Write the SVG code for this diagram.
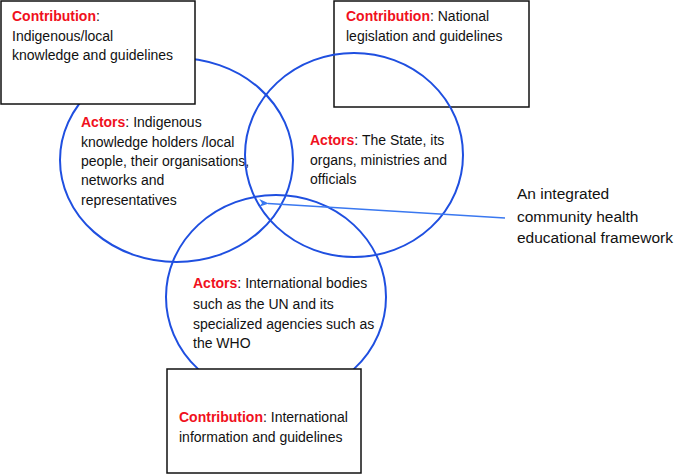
<svg xmlns="http://www.w3.org/2000/svg" width="700" height="475" viewBox="0 0 700 475">
<style>
text{font-family:"Liberation Sans",Arial,sans-serif;font-size:14px;fill:#111}
.k{fill:#f01020;font-weight:bold}
.box{fill:#fff;stroke:#111;stroke-width:1.5}
.ring{fill:none;stroke:#1f4fe0;stroke-width:2}
.lbl{font-size:15.5px}
</style>
<defs>
<marker id="ah" viewBox="0 0 10 10" refX="1" refY="5" markerWidth="10" markerHeight="10" markerUnits="userSpaceOnUse" orient="auto">
<path d="M10,1 L0,5 L10,9 L7,5 Z" fill="#3a78f0"/>
</marker>
</defs>
<rect width="700" height="475" fill="#fff"/>
<g id="contribution-national">
<rect class="box" x="334" y="1" width="195" height="106"/>
<text x="346" y="21"><tspan class="k">Contribution</tspan>: National</text>
<text x="346" y="41">legislation and guidelines</text>
</g>
<g id="actors-indigenous">
<ellipse class="ring" cx="176.5" cy="160" rx="116.5" ry="102"/>
<text x="81" y="127"><tspan class="k">Actors</tspan>: Indigenous</text>
<text x="81" y="147">knowledge holders /local</text>
<text x="81" y="166">people, their organisations,</text>
<text x="81" y="185">networks and</text>
<text x="81" y="205">representatives</text>
</g>
<g id="actors-state">
<ellipse class="ring" cx="354" cy="155" rx="109" ry="102"/>
<text x="310" y="145"><tspan class="k">Actors</tspan>: The State, its</text>
<text x="310" y="165">organs, ministries and</text>
<text x="310" y="184">officials</text>
</g>
<g id="actors-international">
<ellipse class="ring" cx="276" cy="297" rx="110" ry="102"/>
<text x="193" y="288"><tspan class="k">Actors</tspan>: International bodies</text>
<text x="193" y="309">such as the UN and its</text>
<text x="193" y="329">specialized agencies such as</text>
<text x="193" y="348">the WHO</text>
</g>
<g id="contribution-indigenous">
<rect class="box" x="1" y="1" width="194" height="103"/>
<text x="12" y="21"><tspan class="k">Contribution</tspan>:</text>
<text x="12" y="41">Indigenous/local</text>
<text x="12" y="60">knowledge and guidelines</text>
</g>
<g id="contribution-international">
<rect class="box" x="167" y="369" width="194" height="104"/>
<text x="179" y="422"><tspan class="k">Contribution</tspan>: International</text>
<text x="179" y="442">information and guidelines</text>
</g>
<g id="integrated-framework">
<text class="lbl" x="517" y="199">An integrated</text>
<text class="lbl" x="517" y="222">community health</text>
<text class="lbl" x="517" y="243">educational framework</text>
</g>
<g id="connectors">
<line x1="505" y1="218" x2="268" y2="203.5" stroke="#3a78f0" stroke-width="1.3" marker-end="url(#ah)"/>
</g>
</svg>
